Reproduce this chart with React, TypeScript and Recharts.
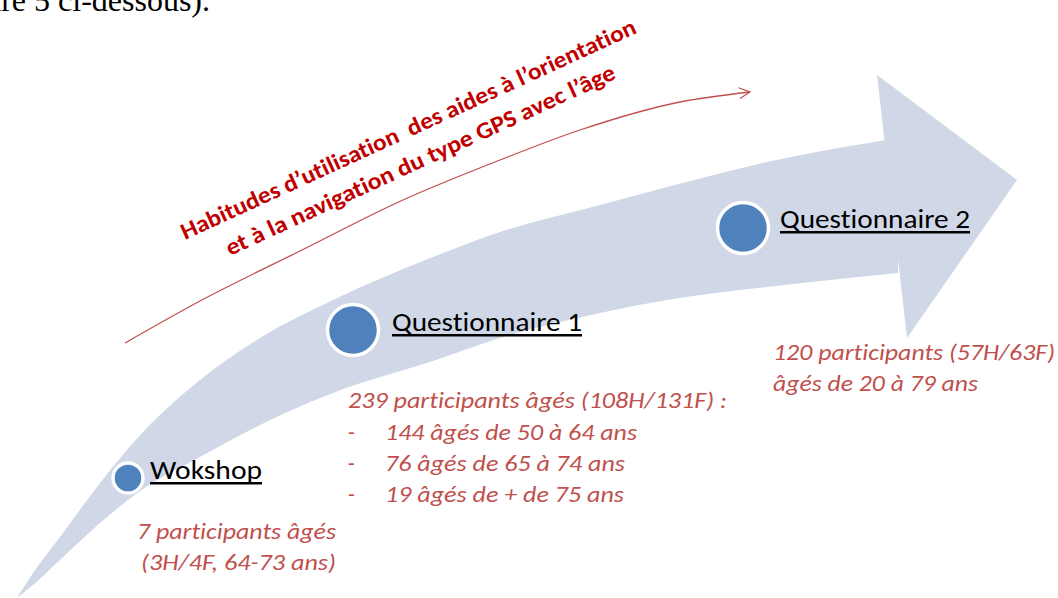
import React from 'react';
import { ComposedChart, XAxis, YAxis, Area, Line, Scatter, Customized } from 'recharts';

const W = 1058;
const H = 598;

// Curved body of the big arrow: x, upper edge, lower edge
const bandX = [17, 33, 60, 100, 143, 200, 260, 333, 433, 500, 600, 667, 767, 898];
const bandTop = [598, 573, 537, 483, 432, 380, 338, 300, 257, 232, 205, 187, 162, 138];
const bandBottom = [598, 585, 560, 523, 489, 457, 425, 393, 361, 338, 313, 300, 287, 273];

// Arrow head
const headX = [877, 907, 1017];
const headTop = [75, 97.5, 180];
const headBottom = [75, 338, 180];

// Thin red trend arrow
const trendX = [125, 200, 300, 403, 500, 580, 680, 750];
const trendY = [343, 301, 251, 200, 160, 130, 102, 92];

// Stages
const stageNames = ['Wokshop', 'Questionnaire 1', 'Questionnaire 2'];
const stageX = [128, 353, 743];
const stageY = [478, 330, 228];
const stageNotes = [
  ['7 participants âgés', '(3H/4F, 64-73 ans)'],
  ['239 participants âgés (108H/131F) :', '144 âgés de 50 à 64 ans', '76 âgés de 65 à 74 ans', '19 âgés de + de 75 ans'],
  ['120 participants (57H/63F)', 'âgés de 20 à 79 ans'],
];

const captionLines = ['Habitudes d’utilisation  des aides à l’orientation', 'et à la navigation du type GPS avec l’âge'];
const pageFragment = '(voir figure 5 ci-dessous).';

// ---- styles / layout ----
const BAND = '#d0d8e8';
const DOT = '#4f81bd';
const NOTE = '#c0504d';
const CAPTION = '#c00000';
const FONT = 'Carlito, Lato, "Open Sans", sans-serif';
const NOLIG: React.CSSProperties = { fontVariantLigatures: 'none', whiteSpace: 'pre' };

const stageStyle = [
  { r: 15, sw: 3.4, tdx: 22, tdy: 1, tw: 112, notes: [{ dx: 9, dy: 61, w: 199 }, { dx: 13, dy: 92, w: 195 }] },
  {
    r: 25.5, sw: 3.5, tdx: 39, tdy: 1, tw: 190,
    notes: [{ dx: -5, dy: 78, w: 379 }, { dx: 32, dy: 110, w: 252, dash: true }, { dx: 32, dy: 141, w: 240, dash: true }, { dx: 32, dy: 172, w: 239, dash: true }],
  },
  { r: 25.5, sw: 3.5, tdx: 37, tdy: 0, tw: 190, notes: [{ dx: 30, dy: 132, w: 282 }, { dx: 30, dy: 163, w: 205 }] },
];

const table = [
  ...bandX.map((x, i) => ({ x, band: [bandTop[i], bandBottom[i]] })),
  ...headX.map((x, i) => ({ x, head: [headTop[i], headBottom[i]] })),
  ...trendX.map((x, i) => ({ x, trend: trendY[i] })),
];

const stages = stageNames.map((name, i) => ({ name, x: stageX[i], y: stageY[i], i }));

const StageMark = (props: any) => {
  const { cx, cy, payload } = props;
  const i = payload.i;
  const st = stageStyle[i];
  const tx = cx + st.tdx;
  const ty = cy + st.tdy;
  return (
    <g>
      <circle cx={cx} cy={cy} r={st.r} fill={DOT} stroke="#ffffff" strokeWidth={st.sw} />
      <text x={tx} y={ty} fontFamily={FONT} fontSize={26} fill="#000" textLength={st.tw} lengthAdjust="spacingAndGlyphs" style={NOLIG}>
        {stageNames[i]}
      </text>
      <rect x={tx} y={ty + 3} width={st.tw} height={2.5} fill="#000" />
      {stageNotes[i].map((line, k) => {
        const n = st.notes[k];
        return (
          <g key={k}>
            {n.dash ? (
              <text x={cx - 5} y={cy + n.dy} fontFamily={FONT} fontSize={22} fill={NOTE}>-</text>
            ) : null}
            <text
              x={cx + n.dx}
              y={cy + n.dy}
              fontFamily={FONT}
              fontStyle="italic"
              fontSize={22}
              fill={NOTE}
              textLength={n.w}
              lengthAdjust="spacingAndGlyphs"
              style={NOLIG}
            >
              {line}
            </text>
          </g>
        );
      })}
    </g>
  );
};

const Decor = () => (
  <g>
    <defs>
      <marker id="trendArrow" markerUnits="userSpaceOnUse" markerWidth={14} markerHeight={14} refX={11} refY={6} orient="auto">
        <path d="M0,0.5 L11,6 L0,11.5" fill="none" stroke={NOTE} strokeWidth={1.2} />
      </marker>
    </defs>
    <text x={210} y={11} textAnchor="end" fontFamily='"Liberation Serif", "Times New Roman", serif' fontSize={32} fill="#000">
      {pageFragment}
    </text>
    <text
      x={185}
      y={240}
      transform="rotate(-24.6 185 240)"
      fontFamily={FONT}
      fontWeight={700}
      fontSize={23.5}
      fill={CAPTION}
      textLength={498}
      lengthAdjust="spacingAndGlyphs"
      style={NOLIG}
    >
      {captionLines[0]}
    </text>
    <text
      x={230}
      y={256}
      transform="rotate(-24.7 230 256)"
      fontFamily={FONT}
      fontWeight={700}
      fontSize={23.5}
      fill={CAPTION}
      textLength={426}
      lengthAdjust="spacingAndGlyphs"
      style={NOLIG}
    >
      {captionLines[1]}
    </text>
  </g>
);

export default function App() {
  return (
    <div style={{ position: 'absolute', left: 0, top: 0, width: W, height: H, background: '#fff' }}>
      <ComposedChart width={W} height={H} data={table} margin={{ top: 0, right: 0, bottom: 0, left: 0 }}>
        <XAxis type="number" dataKey="x" domain={[0, W]} hide allowDataOverflow />
        <YAxis type="number" domain={[0, H]} reversed hide allowDataOverflow />
        <Area dataKey="band" type="monotone" stroke="none" fill={BAND} fillOpacity={1} isAnimationActive={false} dot={false} activeDot={false} />
        <Area dataKey="head" type="linear" stroke="none" fill={BAND} fillOpacity={1} isAnimationActive={false} dot={false} activeDot={false} />
        <Line
          dataKey="trend"
          type="monotone"
          connectNulls
          stroke={NOTE}
          strokeWidth={1.3}
          dot={false}
          activeDot={false}
          isAnimationActive={false}
          markerEnd="url(#trendArrow)"
        />
        <Scatter data={stages} dataKey="y" shape={(p: any) => <StageMark {...p} />} isAnimationActive={false} />
        <Customized component={<Decor />} />
      </ComposedChart>
    </div>
  );
}
